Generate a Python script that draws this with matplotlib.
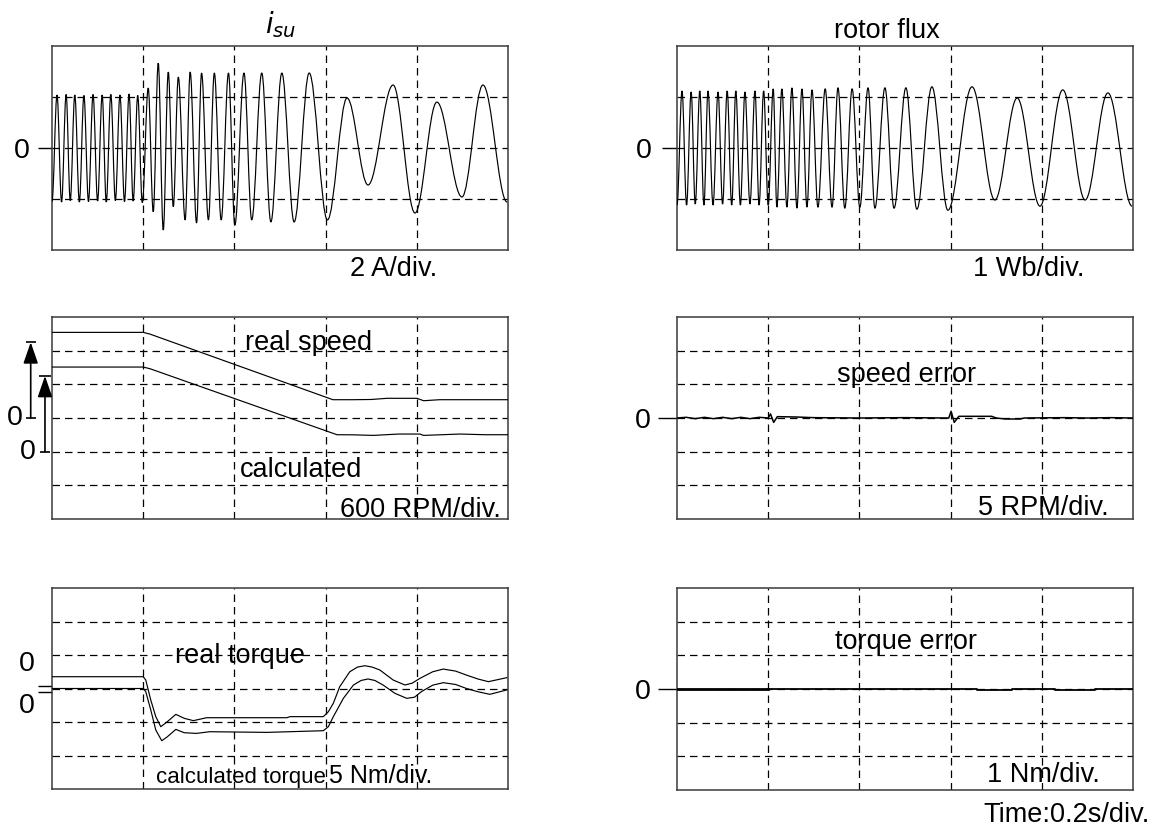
import matplotlib
matplotlib.use("Agg")
import matplotlib.pyplot as plt
import matplotlib.transforms as mtrans
from matplotlib.path import Path
from matplotlib.patches import PathPatch

plt.rcParams['font.family'] = ['Liberation Sans', 'DejaVu Sans']
plt.rcParams['mathtext.fontset'] = 'dejavusans'

# ---------------- data ----------------
time_grid = [0.2, 0.4, 0.6, 0.8]          # s, 0.2 s/div

# stator current i_su : extrema (s, A)
isu_peak_t = [0.011, 0.031, 0.050, 0.070, 0.090, 0.110, 0.129, 0.149, 0.169, 0.188,
              0.211, 0.233, 0.255, 0.277, 0.303, 0.328, 0.356, 0.387, 0.421, 0.460,
              0.504, 0.564, 0.647, 0.748, 0.844, 0.945]
isu_peak_v = [2.08, 2.10, 2.08, 2.06, 2.10, 2.08, 2.10, 2.08, 2.12, 2.06,
              2.35, 3.33, 2.98, 2.78, 2.98, 2.94, 2.94, 2.94, 2.94, 2.94,
              2.94, 2.94, 1.96, 2.47, 1.80, 2.47]
isu_trough_t = [0.000, 0.021, 0.040, 0.060, 0.080, 0.100, 0.119, 0.139, 0.159, 0.178,
                0.198, 0.222, 0.244, 0.266, 0.292, 0.317, 0.343, 0.371, 0.401, 0.438,
                0.480, 0.531, 0.604, 0.693, 0.796, 0.899, 0.998]
isu_trough_v = [-2.10, -2.12, -2.06, -2.12, -2.10, -2.08, -2.12, -2.06, -2.10, -2.08,
                -2.14, -2.50, -3.22, -2.30, -2.82, -2.94, -2.82, -2.82, -3.02, -2.82,
                -2.90, -2.90, -2.82, -1.45, -2.55, -1.92, -2.12]

# rotor flux : extrema (s, Wb)
flux_peak_t = [0.011, 0.031, 0.050, 0.068, 0.090, 0.110, 0.129, 0.149, 0.171, 0.190,
               0.211, 0.230, 0.252, 0.274, 0.296, 0.325, 0.353, 0.384, 0.419, 0.456,
               0.502, 0.559, 0.647, 0.746, 0.846, 0.945]
flux_peak_v = [1.12, 1.10, 1.12, 1.12, 1.10, 1.12, 1.12, 1.10, 1.12, 1.12,
               1.16, 1.16, 1.18, 1.16, 1.14, 1.16, 1.18, 1.16, 1.18, 1.18,
               1.18, 1.20, 1.20, 0.98, 1.14, 1.08]
flux_trough_t = [0.000, 0.021, 0.040, 0.059, 0.079, 0.100, 0.120, 0.139, 0.160, 0.180,
                 0.200, 0.219, 0.241, 0.263, 0.285, 0.309, 0.340, 0.368, 0.401, 0.434,
                 0.476, 0.526, 0.594, 0.697, 0.796, 0.895, 0.998]
flux_trough_v = [-1.12, -1.12, -1.10, -1.12, -1.12, -1.10, -1.12, -1.12, -1.10, -1.12,
                 -1.12, -1.16, -1.16, -1.18, -1.16, -1.16, -1.16, -1.18, -1.16, -1.18,
                 -1.18, -1.20, -1.22, -1.02, -1.14, -1.02, -1.14]

# speed (RPM)
real_speed_t = [0.0, 0.200, 0.215, 0.616, 0.660, 0.700, 0.735, 0.800, 0.815, 0.850, 0.900, 1.000]
real_speed = [1526, 1526, 1495, 326, 326, 330, 351, 351, 308, 326, 326, 326]
calc_speed_t = [0.0, 0.200, 0.215, 0.625, 0.660, 0.705, 0.760, 0.807, 0.815, 0.895, 0.950, 1.000]
calc_speed = [1508, 1508, 1478, 302, 300, 290, 314, 314, 290, 314, 302, 302]
calc_speed_offset = -600          # calculated trace shifted one division down
speed_arrow_rpm = 1350

# speed error (RPM)
speed_err_t = [0.0, 0.02, 0.04, 0.06, 0.08, 0.10, 0.12, 0.14, 0.16, 0.18,
               0.200, 0.205, 0.212, 0.220, 0.260, 0.300, 0.400, 0.500, 0.596, 0.601,
               0.608, 0.618, 0.690, 0.700, 0.720, 0.752, 0.762, 0.850, 0.900, 0.950, 1.0]
speed_err = [0.0, 0.1, -0.1, 0.1, -0.1, 0.1, -0.1, 0.1, -0.1, 0.1,
             0.0, 0.6, -0.65, 0.2, 0.15, 0.05, 0.0, 0.05, 0.0, 1.0,
             -0.65, 0.25, 0.25, 0.0, -0.15, -0.15, 0.0, 0.05, 0.0, 0.05, 0.0]

# torque (Nm)
real_torque_t = [0.0, 0.200, 0.2056, 0.2166, 0.2276, 0.2385, 0.253, 0.2715, 0.290, 0.310,
                 0.339, 0.398, 0.515, 0.522, 0.595, 0.606, 0.617, 0.631, 0.653, 0.670,
                 0.686, 0.702, 0.719, 0.748, 0.774, 0.790, 0.807, 0.835, 0.858, 0.885,
                 0.909, 0.935, 0.957, 0.997]
real_torque = [1.76, 1.76, 1.27, -1.72, -4.2, -5.7, -4.95, -3.86, -4.45, -4.8,
               -4.36, -4.36, -4.36, -4.2, -4.2, -3.47, -2.2, 0.27, 2.5, 3.2,
               3.4, 3.2, 2.76, 1.27, 0.52, 0.8, 1.52, 2.5, 2.9, 2.6,
               2.0, 1.4, 1.02, 1.61]
calc_torque_t = [0.0, 0.200, 0.2056, 0.2166, 0.2276, 0.2407, 0.253, 0.2715, 0.290, 0.317,
                 0.346, 0.471, 0.595, 0.606, 0.617, 0.639, 0.661, 0.678, 0.693, 0.708,
                 0.726, 0.752, 0.778, 0.795, 0.810, 0.835, 0.858, 0.885, 0.909, 0.935,
                 0.960, 0.997]
calc_torque = [0.0, 0.0, -0.47, -3.2, -6.2, -7.8, -7.2, -6.1, -6.6, -6.7,
               -6.45, -6.55, -6.3, -5.7, -4.2, -1.47, 0.52, 1.2, 1.42, 1.2,
               0.52, -0.72, -1.47, -1.3, -0.47, 0.5, 0.87, 0.6, 0.0, -0.5,
               -0.87, -0.22]
torque_zero_marks = [0.37, -0.45]

# torque error (Nm)
torque_err_t = [0.0, 0.2, 0.658, 0.735, 0.829, 0.917, 1.0]
torque_err = [0.0, 0.0, -0.03, 0.0, -0.03, 0.0, 0.0]

# ---------------- figure ----------------
W, H = 1163, 826
fig = plt.figure(figsize=(W / 100, H / 100), dpi=100)
FS = 19.5
LW = 0.85
SPINE = '#3a3a3a'


def make_ax(l, t, r, b):
    return fig.add_axes([l / W, 1 - b / H, (r - l) / W, (b - t) / H])


def style(ax, ylim, ygrid, tick_len, tick_pad, zero_label=True):
    ax.set_xlim(0, 1)
    ax.set_ylim(*ylim)
    for s in ax.spines.values():
        s.set_color(SPINE)
        s.set_linewidth(1.1)
    for x in time_grid:
        ax.axvline(x, color='black', lw=0.9, ls=(0, (6, 4)), zorder=1)
    for y in ygrid:
        ax.axhline(y, color='black', lw=0.9, ls=(0, (6, 4)), zorder=1)
    ax.set_xticks([])
    if zero_label:
        ax.set_yticks([0])
        ax.set_yticklabels(['0'])
    else:
        ax.set_yticks([])
    ax.tick_params(axis='y', length=tick_len, width=1.0, pad=tick_pad,
                   labelsize=FS + 1, color='black')


def osc_path(pt, pv, tt, tv):
    pts = sorted(zip(list(pt) + list(tt), list(pv) + list(tv)))
    k = 0.3642
    verts = [pts[0]]
    codes = [Path.MOVETO]
    for (t0, v0), (t1, v1) in zip(pts[:-1], pts[1:]):
        d = t1 - t0
        verts += [(t0 + k * d, v0), (t1 - k * d, v1), (t1, v1)]
        codes += [Path.CURVE4] * 3
    return Path(verts, codes)


def ftext(x, y, s, **kw):
    kw.setdefault('fontsize', FS)
    fig.text(x / W, 1 - y / H, s, **kw)


# --- top-left: i_su ---
ax = make_ax(52, 46, 508, 250)
style(ax, (-4, 4), [-2, 0, 2], 10, 6)
ax.add_patch(PathPatch(osc_path(isu_peak_t, isu_peak_v, isu_trough_t, isu_trough_v),
                       fill=False, ec='black', lw=LW, zorder=3))
ftext(281, 25, r'$i_{su}$', ha='center', va='center', fontsize=20)
ftext(350, 276, '2 A/div.', ha='left', va='baseline')

# --- top-right: rotor flux ---
ax = make_ax(677, 46, 1133, 250)
style(ax, (-2, 2), [-1, 0, 1], 11, 7)
ax.add_patch(PathPatch(osc_path(flux_peak_t, flux_peak_v, flux_trough_t, flux_trough_v),
                       fill=False, ec='black', lw=LW, zorder=3))
ftext(887, 38, 'rotor flux', ha='center', va='baseline')
ftext(973, 276, '1 Wb/div.', ha='left', va='baseline')

# --- middle-left: speed ---
ax = make_ax(52, 317, 508, 519)
style(ax, (-1800, 1800), [-1200, -600, 0, 600, 1200], 0, 0, zero_label=False)
ax.plot(real_speed_t, real_speed, color='black', lw=LW, zorder=3)
ax.plot(calc_speed_t, [v + calc_speed_offset for v in calc_speed], color='black', lw=LW, zorder=3)
tr = mtrans.blended_transform_factory(ax.transAxes, ax.transData)
for xa, base, cap, blen in [(-0.0467, 0, 7.5, 6.5), (-0.0154, calc_speed_offset, 8, 7.5)]:
    ax.annotate('', xy=(xa, base + speed_arrow_rpm), xytext=(xa, base),
                xycoords=tr, textcoords=tr, annotation_clip=False,
                arrowprops=dict(arrowstyle='-|>,head_length=1.3,head_width=0.45',
                                color='black', lw=1.2, shrinkA=0, shrinkB=0))
    ax.plot([xa], [base + speed_arrow_rpm], marker='_', ms=cap, mew=1.2, color='black',
            transform=tr, clip_on=False)
    ax.plot([xa], [base], marker='_', ms=blen, mew=1.2, color='black',
            transform=tr, clip_on=False)
ax.text(-0.064, 0, '0', transform=tr, ha='right', va='center', fontsize=FS + 1)
ax.text(-0.036, calc_speed_offset, '0', transform=tr, ha='right', va='center', fontsize=FS + 1)
ftext(245, 350, 'real speed', ha='left', va='baseline')
ftext(240, 477, 'calculated', ha='left', va='baseline')
ftext(340, 517, '600 RPM/div.', ha='left', va='baseline')

# --- middle-right: speed error ---
ax = make_ax(677, 317, 1133, 519)
style(ax, (-15, 15), [-10, -5, 0, 5, 10], 14, 5)
ax.plot(speed_err_t, speed_err, color='black', lw=1.1, zorder=3)
ftext(837, 382, 'speed error', ha='left', va='baseline')
ftext(978, 515, '5 RPM/div.', ha='left', va='baseline')

# --- bottom-left: torque ---
ax = make_ax(52, 588, 508, 789)
style(ax, (-15, 15), [-10, -5, 0, 5, 10], 0, 0, zero_label=False)
ax.set_yticks(torque_zero_marks)
ax.set_yticklabels(['', ''])
ax.tick_params(axis='y', length=10, width=1.0)
ax.plot(real_torque_t, real_torque, color='black', lw=LW, zorder=3)
ax.plot(calc_torque_t, calc_torque, color='black', lw=LW, zorder=3)
ftext(35, 664, '0', ha='right', va='center', fontsize=FS + 1)
ftext(35, 706, '0', ha='right', va='center', fontsize=FS + 1)
ftext(175, 663, 'real torque', ha='left', va='baseline')
ftext(156, 783, 'calculated torque', ha='left', va='baseline', fontsize=16)
ftext(329, 783, '5 Nm/div.', ha='left', va='baseline', fontsize=18)

# --- bottom-right: torque error ---
ax = make_ax(677, 588, 1133, 790)
style(ax, (-3, 3), [-2, -1, 0, 1, 2], 14, 5)
n_pre = 2
ax.plot(torque_err_t[:n_pre], torque_err[:n_pre], color='black', lw=2.0, zorder=3)
ax.plot(torque_err_t[n_pre - 1:], torque_err[n_pre - 1:], color='black', lw=1.3,
        drawstyle='steps-post', zorder=3)
ftext(835, 649, 'torque error', ha='left', va='baseline')
ftext(987, 782, '1 Nm/div.', ha='left', va='baseline')
ftext(983, 822, 'Time:0.2s/div.', ha='left', va='baseline')

fig.savefig('out.png', dpi=100)
